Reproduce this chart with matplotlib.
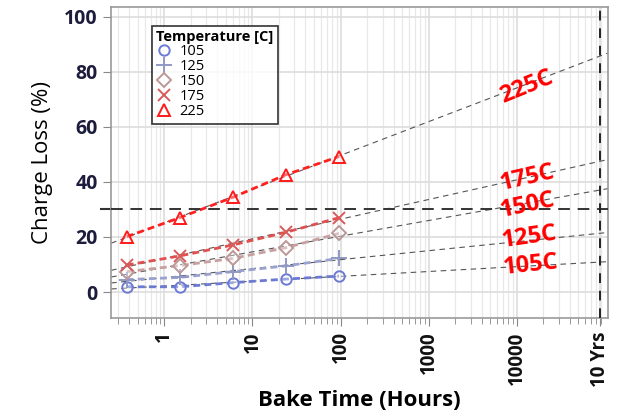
import numpy as np
import matplotlib.pyplot as plt
from matplotlib.ticker import LogLocator, NullFormatter, FixedLocator

plt.rcParams['font.family'] = ['Open Sans', 'DejaVu Sans']

# Bake times (hours) and charge loss (%) per temperature
bake_hours = [0.375, 1.5, 6, 24, 96]
temps = ["105", "125", "150", "175", "225"]
loss_105 = [1.9, 1.9, 3.4, 4.7, 5.8]
loss_125 = [4.5, 5.3, 7.4, 9.5, 12.2]
loss_150 = [7.4, 9.6, 12.2, 16.1, 21.3]
loss_175 = [9.8, 13.1, 17.1, 21.7, 27.0]
loss_225 = [20.1, 27.0, 34.4, 42.6, 49.2]
ten_years = 87600
limit = 30

series = [loss_105, loss_125, loss_150, loss_175, loss_225]
markers = ['o', '+', 'D', 'x', '^']
colors = ['#6b7ad4', '#9098c4', '#bb9898', '#d95a5a', '#ff1a1a']
line_cols = ['#6b7ad4', '#9aa2d0', '#c8a0a0', '#e05050', '#ff2020']
msizes = [7.5, 11, 7, 9, 9]

fig = plt.figure(figsize=(6.21, 4.17), dpi=100)
ax = fig.add_axes([0.179, 0.237, 0.800, 0.746])

xs = np.logspace(np.log10(0.25), np.log10(1.08e5), 50)
for vals, m, c, lc, ms, t in zip(series, markers, colors, line_cols, msizes, temps):
    k, b = np.polyfit(np.log10(bake_hours), vals, 1)
    ax.plot(xs, k * np.log10(xs) + b, ls=(0, (5, 4)), color='#555555', lw=0.8, zorder=2)
    ax.plot(bake_hours, vals, ls=(0, (2.5, 1.5)), color=lc, lw=2, zorder=3)
    filled = m in ('+', 'x')
    ax.plot(bake_hours, vals, ls='none', marker=m, ms=ms,
            mfc=c if filled else (1, 1, 1, 0.35), mec=c, mew=1.4, zorder=4, label=t)

ax.axhline(limit, color='#333333', ls=(0, (6, 4)), lw=1.4, zorder=3)
ax.axvline(ten_years, color='#222222', ls=(0, (5, 4)), lw=1.4, zorder=3)

ax.set_xscale('log')
ax.set_xlim(0.25, 1.08e5)
ax.set_ylim(-9.5, 103.5)

ax.xaxis.set_major_locator(FixedLocator([1, 10, 100, 1000, 10000, ten_years]))
ax.set_xticklabels(['1', '10', '100', '1000', '10000', '10 Yrs'], rotation=90,
                   fontsize=13.5, fontweight='bold', color='#111111')
ax.xaxis.set_minor_locator(LogLocator(base=10, subs=np.arange(2, 10)))
ax.xaxis.set_minor_formatter(NullFormatter())
ax.set_yticks([0, 20, 40, 60, 80, 100])
ax.set_yticklabels(['0', '20', '40', '60', '80', '100'], fontsize=14,
                   fontweight='bold', color='#1c1c3c')
ax.set_yticks([limit], minor=True)
ax.tick_params(axis='y', which='minor', length=8, width=1.5, color='#333333')
ax.tick_params(axis='both', which='major', length=6, color='#888888')
ax.tick_params(axis='x', which='minor', length=4, color='#888888')

ax.grid(True, which='major', color='#dddddd', lw=1.2, zorder=0)
ax.grid(True, which='minor', axis='x', color='#e8e8e8', lw=0.9, zorder=0)
ax.set_axisbelow(True)
for s in ax.spines.values():
    s.set_color('#999999')
    s.set_linewidth(1.2)

ax.set_ylabel('Charge Loss (%)', fontsize=16, labelpad=8)
ax.set_xlabel('Bake Time (Hours)', fontsize=16, fontweight='bold', labelpad=2)

leg = ax.legend(title='Temperature [C]', loc='upper left', bbox_to_anchor=(0.082, 0.939),
                borderaxespad=0, fontsize=10.5, title_fontproperties={'weight': 'bold', 'size': 10.5},
                frameon=True, fancybox=False, handlelength=1.0, handletextpad=0.6,
                labelspacing=0.0, borderpad=0.3, alignment='left')
leg.get_frame().set_edgecolor('black')
leg.get_frame().set_linewidth(1.2)

labels = [("225C", 13000, 74.5, 22), ("175C", 13300, 41.5, 13), ("150C", 13300, 31.6, 12),
          ("125C", 14000, 19.8, 8), ("105C", 14200, 9.8, 6)]
for txt, x, y, r in labels:
    ax.text(x, y, txt, color='#ff0000', fontsize=17, fontweight='bold',
            rotation=r, ha='center', va='center', zorder=5)

fig.savefig('out.png', dpi=100)
